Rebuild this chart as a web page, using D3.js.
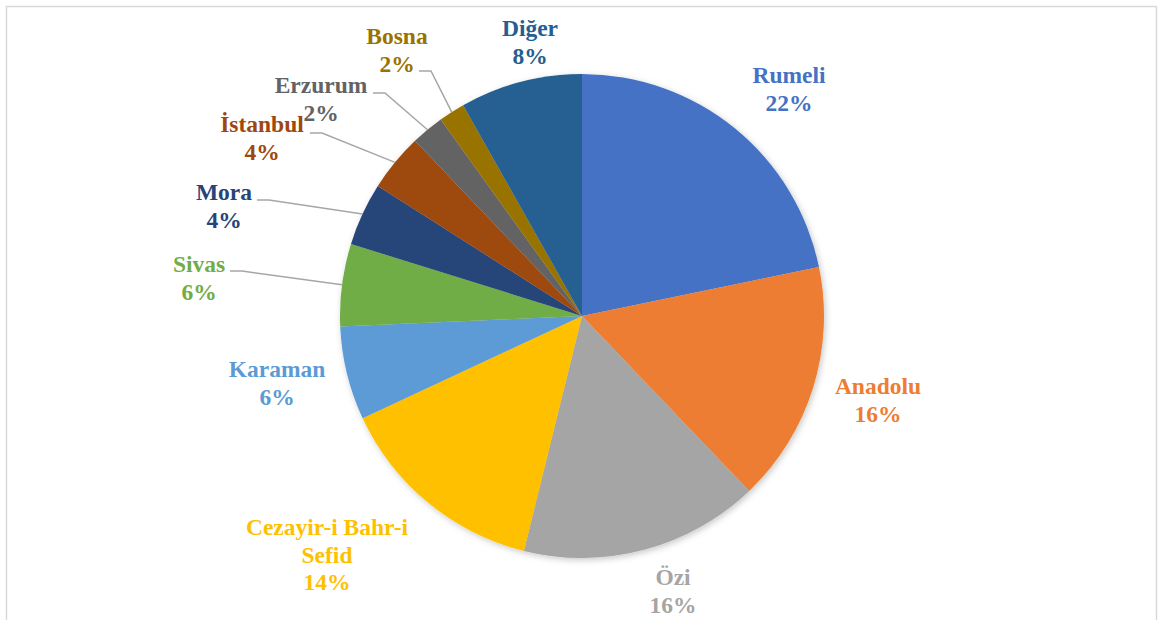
<!DOCTYPE html>
<html>
<head>
<meta charset="utf-8">
<script src="https://cdn.jsdelivr.net/npm/d3@7"></script>
<style>
  html, body { margin: 0; padding: 0; background: #fff; }
  svg { display: block; }
  .lbl { font-family: "Liberation Serif", "Tinos", "Times New Roman", Times, "DejaVu Serif", serif; font-weight: bold; font-size: 23.5px; }
</style>
</head>
<body>
<svg id="chart"></svg>
<script>
// slice data, clockwise from the top
var regions = ["Rumeli", "Anadolu", "Özi", "Cezayir-i Bahr-i Sefid", "Karaman", "Sivas",
  "Mora", "İstanbul", "Erzurum", "Bosna", "Diğer"];
var shares = [21.75, 16.1, 16.0, 14.2, 6.25, 5.5, 4.2, 3.86, 2.2, 1.75, 8.17];
var colors = ["#4472C4", "#ED7D31", "#A5A5A5", "#FFC000", "#5B9BD5", "#70AD47",
  "#264478", "#9E480E", "#636363", "#997300", "#255E91"];

// label layout (text centre x, first baseline y, line breaks) -- hand placed like the original
var labelLines = [["Rumeli"], ["Anadolu"], ["Özi"], ["Cezayir-i Bahr-i", "Sefid"], ["Karaman"],
  ["Sivas"], ["Mora"], ["İstanbul"], ["Erzurum"], ["Bosna"], ["Diğer"]];
var labelXY = [[789, 83], [878, 394], [673, 585], [327, 535], [277, 377], [199, 272],
  [224, 200], [262, 132], [321, 93], [397, 44], [530, 36]];
// leader line start for labels that have one
var leaderStart = {"Sivas": [230, 271], "Mora": [257, 200], "İstanbul": [310, 133],
  "Erzurum": [373, 93], "Bosna": [419, 71]};

var width = 1158, height = 620;
var cx = 582, cy = 316, radius = 242;
var lineH = 27.5;

var svg = d3.select("#chart").attr("width", width).attr("height", height);

// chart frame
svg.append("rect")
  .attr("x", 6.5).attr("y", 6.5)
  .attr("width", 1150).attr("height", 640)
  .style("fill", "none")
  .style("stroke", "#d9d9d9")
  .style("stroke-width", "1.5px");

var defs = svg.append("defs");
defs.append("filter").attr("id", "shadow")
  .attr("x", "-10%").attr("y", "-10%").attr("width", "120%").attr("height", "120%")
  .append("feDropShadow")
  .attr("dx", 1.5).attr("dy", 2)
  .attr("stdDeviation", 3)
  .attr("flood-color", "#000")
  .attr("flood-opacity", 0.22);

var data = regions.map(function (r, i) { return { name: r, value: shares[i], i: i }; });
var total = d3.sum(shares);
var pct = d3.format(".0%");

var pie = d3.pie().sort(null).value(function (d) { return d.value; });
var arcs = pie(data);
var arc = d3.arc().innerRadius(0).outerRadius(radius);

var g = svg.append("g").attr("transform", "translate(" + cx + "," + cy + ")");

g.append("g")
  .attr("filter", "url(#shadow)")
  .selectAll("path")
  .data(arcs)
  .enter()
  .append("path")
  .attr("d", arc)
  .style("fill", function (d) { return colors[d.data.i]; });

// leader lines: label -> short horizontal -> middle of the slice rim
var leaders = svg.append("g").attr("class", "leaders");
arcs.forEach(function (d) {
  var s = leaderStart[d.data.name];
  if (!s) return;
  var a = (d.startAngle + d.endAngle) / 2;
  var px = cx + radius * Math.sin(a), py = cy - radius * Math.cos(a);
  leaders.append("polyline")
    .attr("points", [s, [s[0] + 12, s[1]], [px, py]].map(function (p) { return p.join(","); }).join(" "))
    .style("fill", "none")
    .style("stroke", "#a6a6a6")
    .style("stroke-width", "1.5px");
});

var labels = svg.append("g")
  .attr("class", "lbl")
  .attr("text-anchor", "middle");

arcs.forEach(function (d) {
  var i = d.data.i;
  var lines = labelLines[i].concat([pct(d.data.value / total)]);
  var t = labels.append("text")
    .attr("class", "lbl")
    .attr("x", labelXY[i][0])
    .attr("y", labelXY[i][1])
    .style("fill", colors[i]);
  lines.forEach(function (l, k) {
    t.append("tspan")
      .attr("x", labelXY[i][0])
      .attr("y", labelXY[i][1] + k * lineH)
      .text(l);
  });
});
</script>
</body>
</html>
